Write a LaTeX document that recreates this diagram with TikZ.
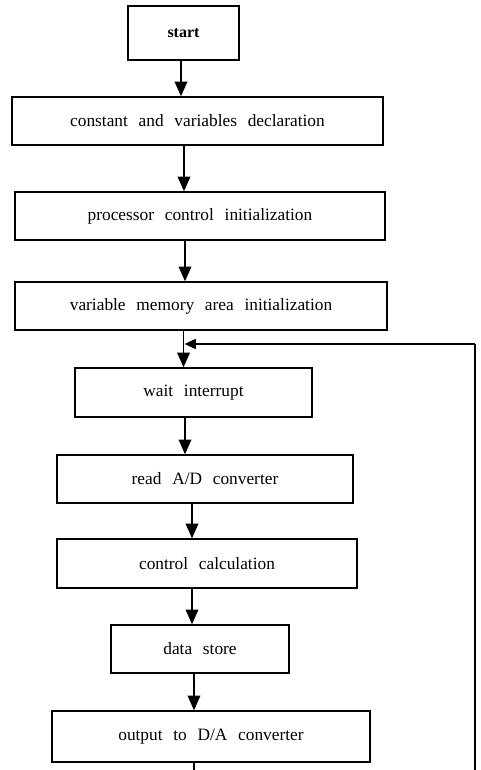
\documentclass[tikz,border=0pt]{standalone}
\usepackage{fontspec}
\setmainfont{Liberation Serif}
\usetikzlibrary{arrows.meta}
\newcommand\widespaces{\spaceskip=0.62em plus 0.1em\relax}
\begin{document}
\begin{tikzpicture}[x=0.75pt,y=-0.75pt,
  box/.style={draw,line width=1.1pt,inner sep=0pt,
    font=\fontsize{13pt}{15pt}\selectfont\widespaces},
  flow/.style={line width=1.1pt,-{Triangle[width=9.5pt,length=11pt]}},
  back/.style={line width=1.1pt,-{Triangle[width=7.5pt,length=8.5pt]}},
  plain/.style={line width=1.1pt}]
\useasboundingbox (0,0) rectangle (481,770);
\clip (0,0) rectangle (481,770);
\node[box,minimum width=83.25pt,minimum height=40.5pt,font=\fontsize{12pt}{14pt}\selectfont\bfseries] (start) at (183.5,33) {start};
\node[box,minimum width=278.25pt,minimum height=36pt] (decl)  at (197.5,121) {constant and variables declaration};
\node[box,minimum width=277.5pt,minimum height=36pt] (proc)  at (200,216) {processor control initialization};
\node[box,minimum width=279pt,minimum height=36pt] (mem)   at (201,306) {variable memory area initialization};
\node[box,minimum width=177.75pt,minimum height=36.75pt] (wait)  at (193.5,392.5) {wait interrupt};
\node[box,minimum width=222pt,minimum height=36pt] (read)  at (205,479) {read A/D converter};
\node[box,minimum width=225pt,minimum height=36.75pt] (calc)  at (207,563.5) {control calculation};
\node[box,minimum width=133.5pt,minimum height=36pt] (store) at (200,649) {data store};
\node[box,minimum width=238.5pt,minimum height=38.25pt] (out)   at (211,736.5) {output to D/A converter};
\coordinate (join) at (184.5,344);
\coordinate (bl) at (194,790);
\coordinate (br) at (475,790);
\coordinate (tr) at (475,344);
\draw[flow] (start.south -| 181,0) -- (decl.north -| 181,0);
\draw[flow] (decl.south -| 184,0) -- (proc.north -| 184,0);
\draw[flow] (proc.south -| 185,0) -- (mem.north -| 185,0);
\draw[flow] (mem.south -| 183.5,0) -- (wait.north -| 183.5,0);
\draw[flow] (wait.south -| 185,0) -- (read.north -| 185,0);
\draw[flow] (read.south -| 192,0) -- (calc.north -| 192,0);
\draw[flow] (calc.south -| 192,0) -- (store.north -| 192,0);
\draw[flow] (store.south -| 194,0) -- (out.north -| 194,0);
\draw[plain] (out.south -| 194,0) -- (bl) -- (br) -- (tr);
\draw[back] (tr) -- (join);
\end{tikzpicture}
\end{document}
